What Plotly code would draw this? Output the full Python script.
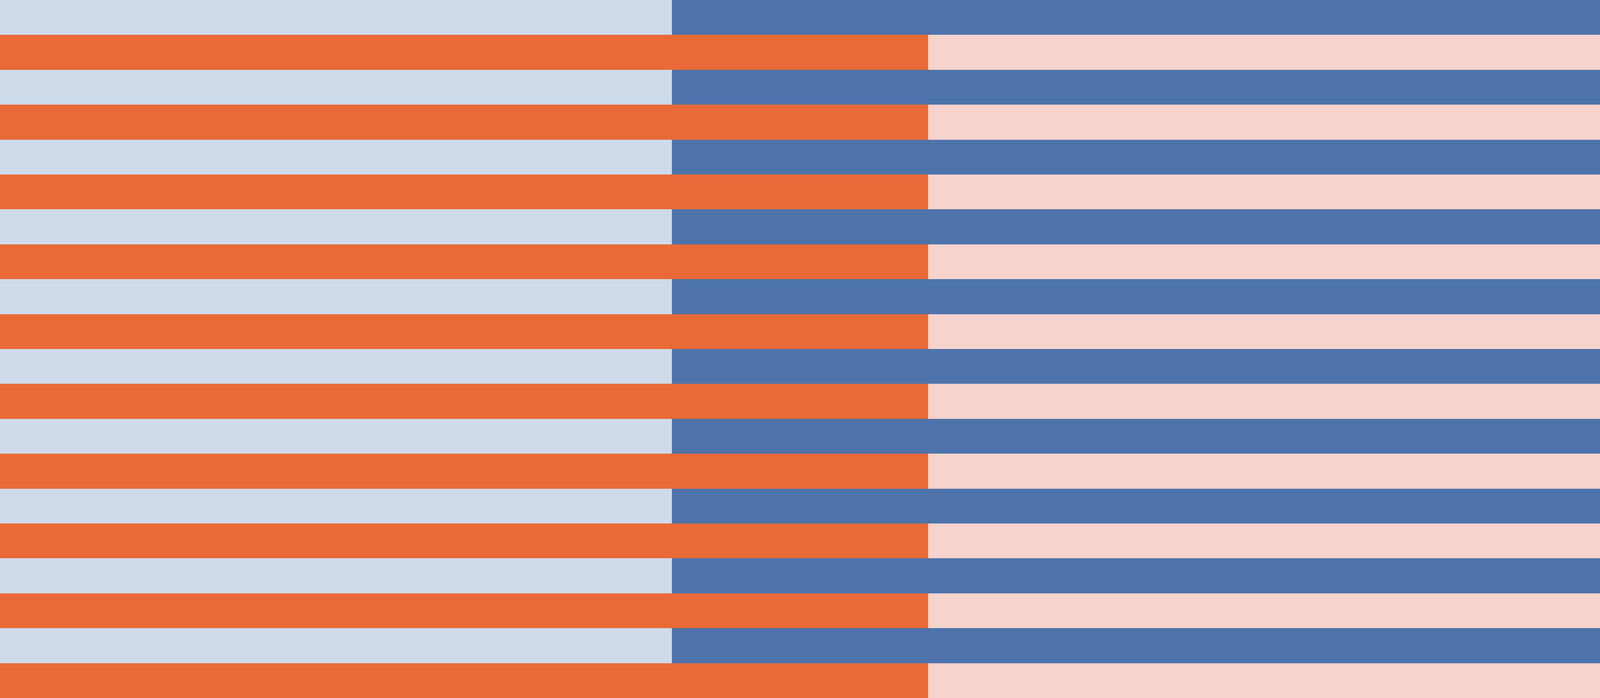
import plotly.graph_objects as go

rows = [f"Row {i+1}" for i in range(20)]
left_values = [42, 58] * 10
right_values = [58, 42] * 10
left_colors = ["#cfdbea", "#e96a37"] * 10
right_colors = ["#4e73ab", "#f6d3cd"] * 10

fig = go.Figure()
fig.add_trace(go.Bar(y=rows, x=left_values, orientation="h",
                     marker=dict(color=left_colors, line=dict(width=0)),
                     hoverinfo="skip"))
fig.add_trace(go.Bar(y=rows, x=right_values, orientation="h",
                     marker=dict(color=right_colors, line=dict(width=0)),
                     hoverinfo="skip"))

fig.update_layout(
    autosize=True,
    barmode="stack",
    bargap=0,
    showlegend=False,
    margin=dict(l=0, r=0, t=0, b=0, pad=0),
    paper_bgcolor="white",
    plot_bgcolor="white",
    xaxis=dict(range=[0, 100], visible=False, fixedrange=True),
    yaxis=dict(autorange="reversed", visible=False, fixedrange=True),
)

post = (
    "document.documentElement.style.height='100%';"
    "document.documentElement.style.margin='0';"
    "document.documentElement.style.overflow='hidden';"
    "document.body.style.height='100%';"
    "document.body.style.margin='0';"
    "document.body.style.padding='0';"
    "document.body.style.overflow='hidden';"
    "var gd=document.getElementById('{plot_id}');"
    "gd.style.width='100vw';gd.style.height='100vh';"
    "Plotly.Plots.resize(gd);"
)

fig.write_html("out.html", config={"displayModeBar": False, "responsive": True},
               default_width="100%", default_height="100%", post_script=post)
